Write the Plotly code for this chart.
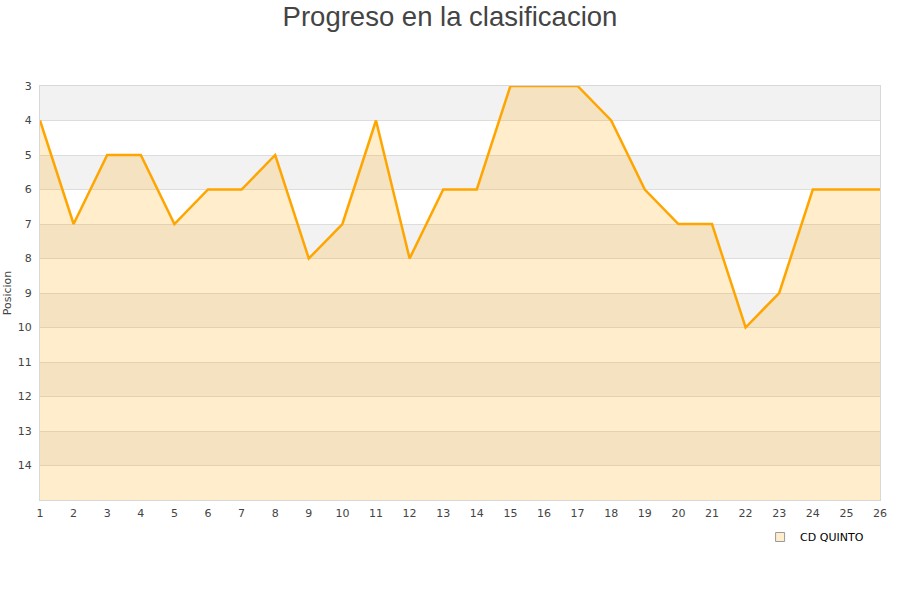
import plotly.graph_objects as go

jornadas = list(range(1, 27))
posiciones = [4, 7, 5, 5, 7, 6, 6, 5, 8, 7, 4, 8, 6, 6, 3, 3, 3, 4, 6, 7, 7, 10, 9, 6, 6, 6]
y_ticks = list(range(3, 15))
team = "CD QUINTO"
fondo = 15

fig = go.Figure()

# alternating bands
shapes = []
for k in range(3, 15):
    shapes.append(dict(type="rect", xref="paper", yref="y", x0=0, x1=1, y0=k, y1=k + 1,
                       fillcolor="#f2f2f2" if (k - 3) % 2 == 0 else "#ffffff",
                       line=dict(width=0), layer="below"))

fig.add_trace(go.Scatter(x=jornadas, y=[fondo] * len(jornadas), mode="lines",
                         line=dict(width=0, color="rgba(0,0,0,0)"), showlegend=False, hoverinfo="skip"))
fig.add_trace(go.Scatter(x=jornadas, y=posiciones, mode="lines", fill="tonexty",
                         fillcolor="rgba(255,165,0,0.2)", line=dict(color="#FFA500", width=2.5),
                         showlegend=False, cliponaxis=False))
fig.add_trace(go.Scatter(x=[None], y=[None], mode="markers", name=team,
                         marker=dict(symbol="square", size=9, color="#FFEDCC",
                                     line=dict(color="#999999", width=1))))

fig.update_layout(
    width=900, height=600,
    paper_bgcolor="white", plot_bgcolor="white",
    margin=dict(l=40, r=20, t=86, b=100, autoexpand=False),
    title=dict(text="Progreso en la clasificacion", x=0.5, xanchor="center",
               y=1 - 16 / 600, yanchor="middle",
               font=dict(family="Liberation Sans, Arial, sans-serif", size=27.5, color="#444444")),
    shapes=shapes,
    showlegend=True,
    legend=dict(x=0.987, xanchor="right", y=-37 / 414, yanchor="middle", orientation="h",
                font=dict(family="DejaVu Sans, sans-serif", size=11, color="#000000"),
                bgcolor="rgba(0,0,0,0)"),
    font=dict(family="DejaVu Sans, sans-serif", size=11, color="#444444"),
)
fig.update_xaxes(range=[1, 26], tickmode="array", tickvals=jornadas, ticktext=[str(j) for j in jornadas],
                 showgrid=False, zeroline=False, showline=True, linecolor="#d8d8d8", mirror=True,
                 ticks="", automargin=False, ticklabelstandoff=3,
                 tickfont=dict(size=11, color="#444444"))
fig.update_yaxes(range=[15, 3], tickmode="array", tickvals=y_ticks, ticktext=[str(t) for t in y_ticks],
                 showgrid=True, gridcolor="#dddddd", gridwidth=1, zeroline=False,
                 showline=True, linecolor="#d8d8d8", mirror=True, ticks="", automargin=False,
                 ticklabelstandoff=5, tickfont=dict(size=11, color="#444444"),
                 title=dict(text="Posicion", font=dict(size=11, color="#444444"), standoff=3))

fig.write_html("out.html", config={"displayModeBar": False},
               post_script="document.body.style.margin='0px';")
